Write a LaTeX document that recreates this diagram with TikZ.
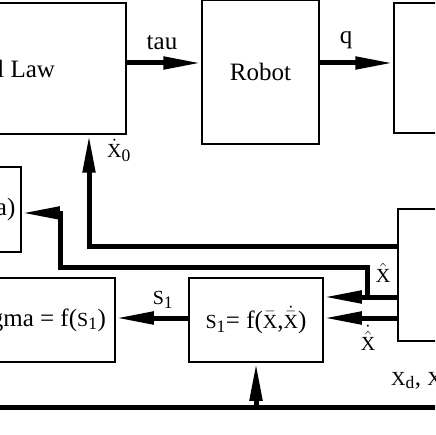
\documentclass[tikz,border=0pt]{standalone}
\usepackage{fontspec}
\setmainfont{Liberation Serif}
\usetikzlibrary{arrows.meta}
\tikzset{>=stealth}
\colorlet{penColor}{black}
\newcommand{\smc}[1]{{\fontsize{20}{24}\selectfont #1}}
\tikzset{
  block/.style={draw=penColor, line width=1.5pt, inner sep=0pt, font=\fontsize{25}{30}\selectfont},
  sig/.style={penColor, line width=5pt},
  sigtip/.style={sig, -{Triangle[length=38pt,width=12pt]}},
  lbl/.style={font=\fontsize{25}{30}\selectfont, inner sep=0pt},
}

\begin{document}
\begin{tikzpicture}[x=1pt,y=-1pt]
		\path[clip, use as bounding box] (0,0) rectangle (435,435);
		% blocks
		\node[block, minimum width=269pt, minimum height=131pt] (law) at (-8.5,68.5) {Control Law};
		\node[block, minimum width=117pt, minimum height=144pt] (robot) at (260.5,72) {Robot};
		\node[block, minimum width=126pt, minimum height=130pt] (sensor) at (457,68) {};
		\node[block, minimum width=126pt, minimum height=132pt] (estimator) at (461,275) {};
		\node[block, minimum width=96pt, minimum height=85pt] (fbox) at (-27,209.5) {f(sigma)};
		\node[block, minimum width=150pt, minimum height=84pt] (sigbox) at (40,320) {sigma = f(\smc{S}\textsubscript{1})};
		\node[block, minimum width=134pt, minimum height=84pt] (sbox) at (256,320) {\smc{S}\textsubscript{1}= f($\bar{\textrm{\smc{X}}}$,$\dot{\bar{\textrm{\smc{X}}}}$)};
		
		% forward path
		\draw[sigtip] ([yshift=5.5pt]law.east) -- ([yshift=5.5pt]law.east -| robot.west);
		\draw[sigtip] ([yshift=9pt]robot.east) -- ([yshift=9pt]robot.east -| sensor.west);
		
		% feedback
		\coordinate (split) at (367,297);
		\coordinate (lin) at (-10,407);
		\coordinate (rin) at (445,407);
		\draw[sigtip] ([yshift=29pt]estimator.west) -| ([xshift=97.5pt]law.south);
		\draw[sigtip] ([yshift=-22pt]estimator.west) -- ([yshift=-22pt]estimator.west -| sbox.east);
		\draw[sigtip] ([yshift=-43pt]estimator.west) -- ([yshift=-43pt]estimator.west -| sbox.east);
		\draw[sigtip] (split) |- (60,267) |- ([yshift=-3.5pt]fbox.east);
		\draw[sigtip] ([yshift=2pt]sbox.west) -- ([yshift=2pt]sbox.west -| sigbox.east);
		\draw[sig] (lin) -- (rin);
		\draw[sigtip] (sbox.south |- lin) -- (sbox.south);
		
		% labels
		\node[lbl] (ltau) at (162,43) {tau};
		\node[lbl] (lq) at (346,40) {q};
		\node[lbl] (lx0) at (119,150) {$\dot{\textrm{\smc{X}}}$\textsubscript{0}};
		\node[lbl] (lxh) at (383,273) {$\hat{\textrm{\smc{X}}}$};
		\node[lbl] (lxhd) at (368,338) {$\dot{\hat{\textrm{\smc{X}}}}$};
		\node[lbl] (ls) at (163,300) {\smc{S}\textsubscript{1}};
		\node[lbl, anchor=base west] (lxd) at (391,385) {\smc{X}\textsubscript{d}, \smc{X}\textsubscript{d}};
		\end{tikzpicture}
\end{document}
